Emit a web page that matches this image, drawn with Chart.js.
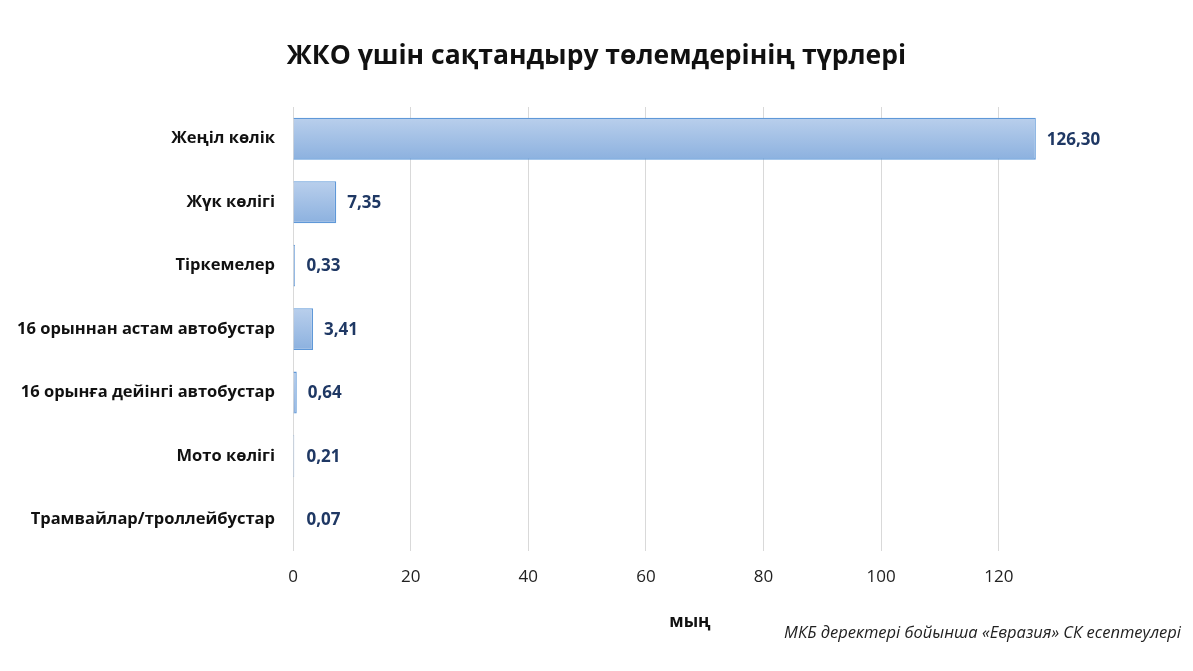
<!DOCTYPE html>
<html>
<head>
<meta charset="utf-8">
<script src="https://cdn.jsdelivr.net/npm/chart.js@4"></script>
<style>
    html, body { margin: 0; padding: 0; background: #fff; }
    #wrap { position: relative; width: 1193px; height: 671px; }
    #title { position: absolute; left: 0; width: 1193px; top: 36px; text-align: center; font: bold 26.5px "Open Sans", sans-serif; color: #111; }
    #note { position: absolute; right: 12px; top: 620px; font: italic 16.5px "Open Sans", sans-serif; color: #222; }
</style>
</head>
<body>
<div id="wrap">
    <canvas id="chart" width="1193" height="671"></canvas>
    <div id="title">ЖКО үшін сақтандыру төлемдерінің түрлері</div>
    <div id="note">МКБ деректері бойынша «Евразия» СК есептеулері</div>
</div>
<script>
const categories = ["Жеңіл көлік", "Жүк көлігі", "Тіркемелер", "16 орыннан астам автобустар", "16 орынға дейінгі автобустар", "Мото көлігі", "Трамвайлар/троллейбустар"];
const values = [126.30, 7.35, 0.33, 3.41, 0.64, 0.21, 0.07];
const tickValues = [0, 20, 40, 60, 80, 100, 120];

const barShare = 0.66;

const valueLabels = {
    id: "valueLabels",
    afterDatasetsDraw(chart) {
        let ctx = chart.ctx;
        let meta = chart.getDatasetMeta(0);
        ctx.save();
        ctx.font = "bold 17px 'Open Sans', sans-serif";
        ctx.fillStyle = "#1f3864";
        ctx.textBaseline = "middle";
        meta.data.forEach((bar, i) => {
            let txt = values[i].toFixed(2).replace(".", ",");
            ctx.fillText(txt, Math.max(bar.x, bar.base + 2) + 11, bar.y + 1);
        });
        ctx.restore();
    }
};

onload = () => {
    let ctx = document.getElementById("chart");
    let c2d = ctx.getContext("2d");
    new Chart(ctx, {
        type: "bar",
        data: {
            labels: categories,
            datasets: [{
                data: values,
                backgroundColor: (c) => {
                    let area = c.chart.chartArea;
                    let y = c.chart.scales.y;
                    if (!area || !y || c.dataIndex === undefined) return "#a4c0e6";
                    let mid = y.getPixelForValue(c.dataIndex);
                    let half = area.height / categories.length * barShare / 2;
                    let g = c2d.createLinearGradient(0, mid - half, 0, mid + half);
                    g.addColorStop(0, "#b9cfec");
                    g.addColorStop(1, "#8cb1df");
                    return g;
                },
                borderColor: "#5f98d8",
                borderWidth: 1.3,
                barPercentage: barShare,
                categoryPercentage: 1
            }]
        },
        options: {
            indexAxis: "y",
            responsive: false,
            animation: false,
            layout: { padding: { left: 18, right: 106, top: 107, bottom: 35 } },
            plugins: {
                legend: { display: false },
                tooltip: { enabled: false },
                title: { display: false }
            },
            scales: {
                x: {
                    min: 0,
                    max: 135,
                    afterBuildTicks: (axis) => { axis.ticks = tickValues.map(v => ({ value: v })); },
                    ticks: {
                        font: { family: "'Open Sans', sans-serif", size: 17 },
                        color: "#222",
                        padding: 16
                    },
                    grid: { color: "#d9d9d9", drawTicks: false },
                    border: { display: false },
                    title: {
                        display: true,
                        text: "мың",
                        font: { family: "'Open Sans', sans-serif", size: 17, weight: "bold" },
                        color: "#111",
                        padding: { top: 8 }
                    }
                },
                y: {
                    afterFit: (axis) => { axis.width = 275; },
                    ticks: {
                        font: { family: "'Open Sans', sans-serif", size: 16.5, weight: "bold" },
                        color: "#111",
                        padding: 18
                    },
                    grid: { display: false, drawTicks: false },
                    border: { display: false }
                }
            }
        },
        plugins: [valueLabels]
    });
};
</script>
</body>
</html>
